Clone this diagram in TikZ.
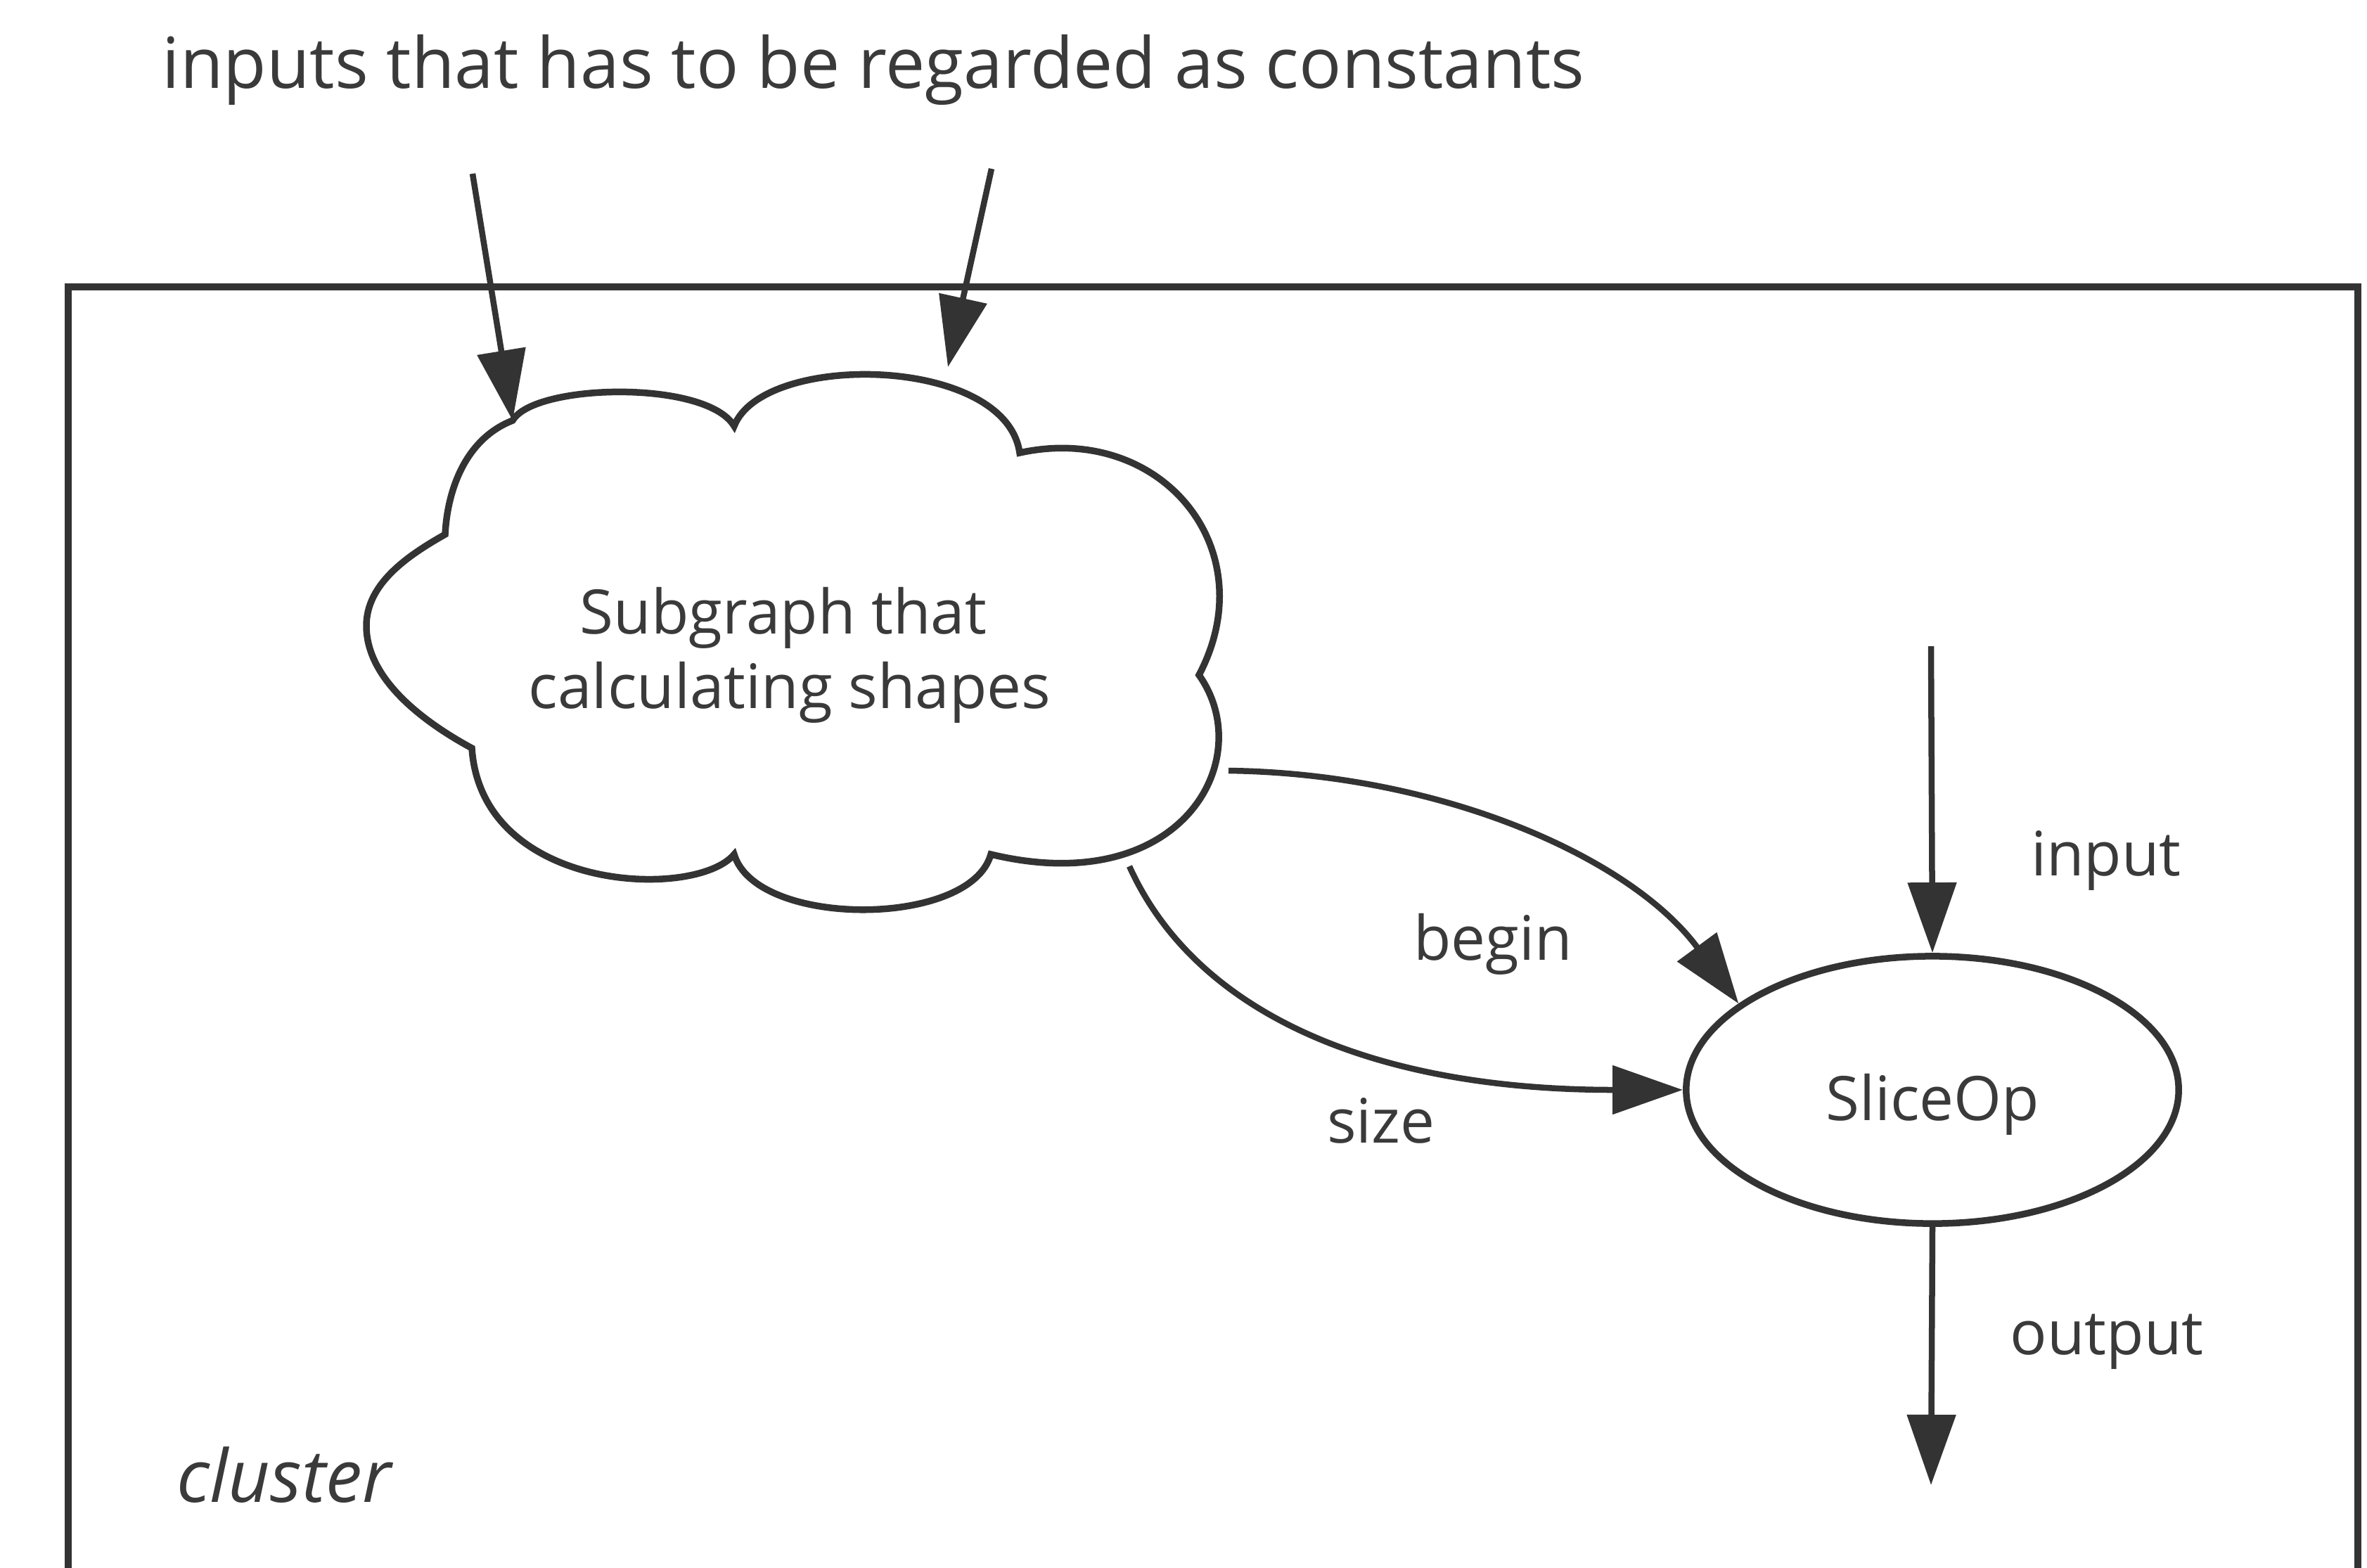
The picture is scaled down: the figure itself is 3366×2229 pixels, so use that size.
\documentclass[tikz,border=0pt]{standalone}
\usepackage{fontspec}
\setmainfont{Open Sans}
\usetikzlibrary{arrows.meta,shapes.geometric}
\definecolor{ink}{HTML}{333333}
\definecolor{txt}{HTML}{3A3A3A}
\begin{document}
\begin{tikzpicture}[x=0.01cm,y=-0.01cm,
  line width=0.095cm, draw=ink,
  lbl/.style={text=txt,font=\fontsize{24.8}{30}\selectfont,inner sep=0pt,anchor=base},
  arr/.style={draw=ink,line width=0.085cm,-{Triangle[length=1.0cm,width=0.68cm]}},
  opnode/.style={ellipse,draw=ink,line width=0.095cm,minimum width=7cm,minimum height=3.8cm,inner sep=0pt}]
\useasboundingbox[fill=white] (0,0) rectangle (3366,2229);
% cluster box (open at the bottom, cut by the picture edge)
\draw[ink,line width=0.1cm] (97,2240) -- (97,408) -- (3353,408) -- (3353,2240);
\node[text=txt,font=\fontsize{29.5}{34}\selectfont\itshape,inner sep=0pt,anchor=base west] (clusterlbl) at (247,2136) {cluster};
% title
\node[text=txt,font=\fontsize{28.5}{34}\selectfont,inner sep=0pt,anchor=base west] (title) at (226,125) {inputs that has to be regarded as constants};
% cloud
\draw[ink] (729,598) .. controls (760,545) and (1005,540) .. (1044,606)
  .. controls (1085,500) and (1430,505) .. (1450,644)
  .. controls (1650,600) and (1800,780) .. (1705,960)
  .. controls (1790,1080) and (1680,1280) .. (1409,1215)
  .. controls (1380,1320) and (1075,1320) .. (1044,1215)
  .. controls (990,1280) and (685,1270) .. (671,1064)
  .. controls (590,1020) and (521,960) .. (521,890)
  .. controls (521,830) and (580,790) .. (633,760)
  .. controls (636,700) and (660,625) .. cycle;
\node[lbl] (sub1) at (1114,901) {Subgraph that};
\node[lbl] (sub2) at (1123,1007) {calculating shapes};
\coordinate (cloudTL) at (729,598);
\coordinate (cloudTR) at (1348,522);
\coordinate (cloudR) at (1747,1096);
\coordinate (cloudB) at (1606,1232);
% slice op
\node[opnode] (slice) at (2748,1550) {};
\node[lbl] (slicetxt) at (2748,1593) {SliceOp};
% free ends
\coordinate (const1) at (672,247);
\coordinate (const2) at (1410,240);
\coordinate (inputsrc) at (2746,919);
\coordinate (outputdst) at (2746,2112);
% connectors
\draw[arr] (const1) -- (cloudTL);
\draw[arr] (const2) -- (cloudTR);
\draw[arr] (inputsrc) -- (slice.north);
\draw[arr] (slice.south) -- (outputdst);
\draw[arr] (cloudR) .. controls (2050,1100) and (2320,1220) .. (slice.156);
\draw[arr] (cloudB) .. controls (1700,1440) and (1950,1550) .. (slice.west);
% labels
\node[lbl] (beginlbl) at (2123,1365) {begin};
\node[lbl] (sizelbl) at (1964,1625) {size};
\node[lbl] (inputlbl) at (2995,1245) {input};
\node[lbl] (outputlbl) at (2996,1926) {output};
\end{tikzpicture}
\end{document}
